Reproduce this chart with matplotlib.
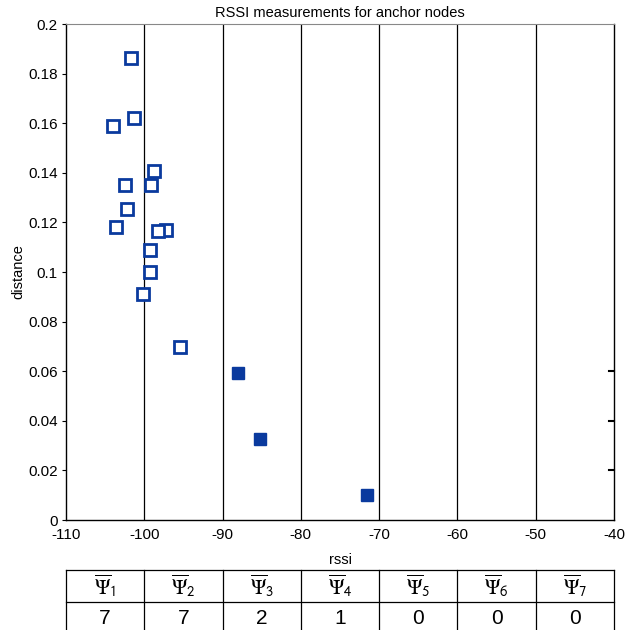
import matplotlib
matplotlib.use("Agg")
import matplotlib.pyplot as plt

plt.rcParams['font.family'] = ['Liberation Sans', 'DejaVu Sans']
plt.rcParams['mathtext.fontset'] = 'stix'
plt.rcParams['axes.unicode_minus'] = False

# open squares: measurements
rssi_open = [-101.7, -101.3, -104.0, -98.8, -102.5, -99.1, -102.2, -103.6,
             -97.2, -98.2, -99.3, -99.3, -100.2, -95.4]
dist_open = [0.1863, 0.162, 0.1589, 0.1407, 0.135, 0.135, 0.1254, 0.118,
             0.117, 0.1165, 0.109, 0.100, 0.0911, 0.0698]
# filled squares: anchor nodes
rssi_fill = [-88.0, -85.2, -71.6]
dist_fill = [0.0593, 0.0327, 0.0101]

bin_edges = [-100, -90, -80, -70, -60, -50]
psi_labels = [r'$\overline{\Psi}_{\mathsf{%d}}$' % i for i in range(1, 8)]
psi_counts = ['7', '7', '2', '1', '0', '0', '0']

blue = '#0a3a9e'

fig = plt.figure(figsize=(6.27, 6.30), dpi=100)
ax = fig.add_axes([66 / 627, 1 - 520 / 630, 548 / 627, 496 / 630])

for xv in bin_edges:
    ax.axvline(xv, color='black', lw=0.9, zorder=1)

ax.plot(rssi_open, dist_open, 's', ms=8.5, mfc='white', mec=blue, mew=2.0,
        linestyle='none', zorder=3)
ax.plot(rssi_fill, dist_fill, 's', ms=9, mfc=blue, mec=blue, mew=1.0,
        linestyle='none', zorder=3)

ax.set_xlim(-110, -40)
ax.set_ylim(0, 0.2)
ax.set_xticks(range(-110, -39, 10))
ax.set_yticks([i * 0.02 for i in range(11)])
ax.set_yticklabels(['0', '0.02', '0.04', '0.06', '0.08', '0.1', '0.12', '0.14',
                    '0.16', '0.18', '0.2'])
ax.tick_params(axis='x', length=0, labelsize=11, pad=6)
ax.tick_params(axis='y', length=3, direction='out', labelsize=11, pad=3)
ax.spines['top'].set_color('#888888')
for s in ['left', 'bottom', 'right']:
    ax.spines[s].set_color('black')
    ax.spines[s].set_linewidth(1.0)

# small inward marks on right spine
for yv in [0.02, 0.04, 0.06]:
    ax.plot([-40.6, -40], [yv, yv], color='black', lw=1.5, clip_on=False, zorder=4)

ax.set_title('RSSI measurements for anchor nodes', fontsize=10.5, pad=5)
ax.set_xlabel('rssi', fontsize=10.5, labelpad=8)
ax.set_ylabel('distance', fontsize=10.5, labelpad=2)

# table below the plot
tax = fig.add_axes([66 / 627, 1 - 640 / 630, 548 / 627, 70 / 630])
tax.set_xlim(0, 7)
tax.set_ylim(0, 70)
tax.axis('off')
line_kw = dict(color='black', lw=0.9, clip_on=False)
tax.plot([0, 7], [70, 70], **line_kw)
tax.plot([0, 7], [38, 38], **line_kw)
for i in range(8):
    tax.plot([i, i], [0, 70], **line_kw)
for i in range(7):
    tax.text(i + 0.5, 54, psi_labels[i], ha='center', va='center', fontsize=15)
    tax.text(i + 0.5, 22, psi_counts[i], ha='center', va='center', fontsize=15)

fig.savefig('out.png', dpi=100)
